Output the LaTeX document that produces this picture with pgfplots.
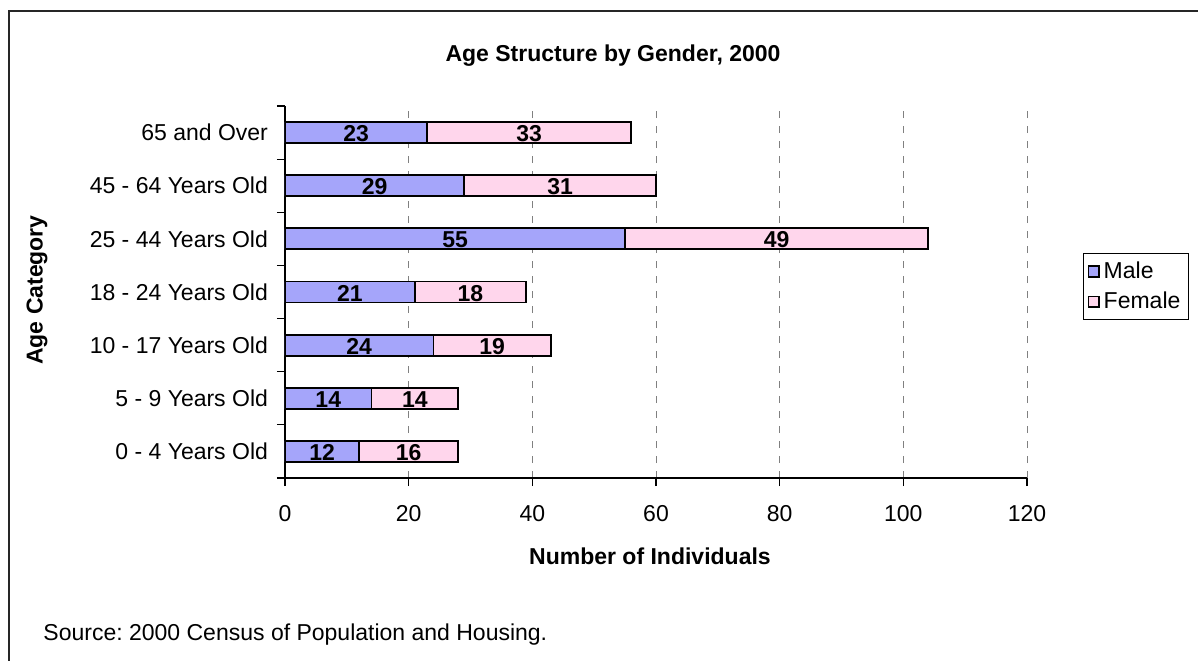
\documentclass[border=0pt]{standalone}
\usepackage{fontspec}
\setmainfont{Liberation Sans}
\usepackage{pgfplots}
\usepackage{pgfplotstable}
\pgfplotsset{compat=1.18}

\definecolor{malefill}{RGB}{165,165,250}
\definecolor{femalefill}{RGB}{255,214,236}
\definecolor{gridgray}{RGB}{128,128,128}

% age groups bottom to top
\pgfplotstableread{
pos male female
0 12 16
1 14 14
2 24 19
3 21 18
4 55 49
5 29 31
6 23 33
}\agedata

\begin{document}
\frenchspacing
\fontsize{11.5}{13.8}\selectfont
\begin{tikzpicture}
\useasboundingbox (0,0) rectangle (599pt,330pt);
% chart frame (runs off the right and bottom edges)
\draw[line width=0.8pt, black!85] (4.5pt,-2pt) -- (4.5pt,324.5pt) -- (601pt,324.5pt);
\node[font=\bfseries] at (306.5pt,302pt) {Age Structure by Gender, 2000};
\node[anchor=west] at (17.7pt,12.5pt) {Source: 2000 Census of Population and Housing.};

\begin{axis}[
    at={(142.5pt,91pt)}, anchor=south west,
    width=371pt, height=186pt, scale only axis,
    xbar stacked, bar width=10.5pt,
    xmin=0, xmax=120, ymin=-0.5, ymax=6.5,
    axis x line=bottom, axis y line=left,
    axis line style={-, line width=0.6pt, black},
    tick align=outside, major tick length=4pt,
    tick style={line width=0.6pt, black},
    xtick={0,20,...,120},
    xmajorgrids=true,
    grid style={dashed, gridgray, line width=0.5pt, dash pattern=on 3.5pt off 4pt},
    /pgf/number format/assume math mode=true,
    xticklabel style={yshift=-5.5pt},
    ytick={-0.5,0.5,...,6.5}, yticklabels={},
    extra y ticks={0,1,2,3,4,5,6},
    extra y tick labels={0 - 4 Years Old, 5 - 9 Years Old, 10 - 17 Years Old, 18 - 24 Years Old, 25 - 44 Years Old, 45 - 64 Years Old, 65 and Over},
    extra y tick style={major tick length=0pt, yticklabel style={xshift=-4.5pt}},
    xlabel={Number of Individuals},
    ylabel={Age Category},
    xlabel style={font=\bfseries, at={(axis description cs:0.4919,-0.2097)}, anchor=center},
    ylabel style={font=\bfseries, at={(axis description cs:-0.3342,0.5054)}, anchor=center},
    legend style={at={(1.0755,0.6048)}, anchor=north west, draw=black, line width=0.5pt,
        inner xsep=2pt, inner ysep=2pt, row sep=1pt, cells={anchor=west}},
    legend image code/.code={\draw[#1, line width=0.7pt] (0.5pt,-2.7pt) rectangle (5.9pt,2.7pt);},
    nodes near coords,
    every node near coord/.append style={anchor=center, font=\bfseries, black, yshift=-0.6pt},
]
\addplot[fill=malefill, draw=black, line width=0.9pt, point meta=explicit]
    table[x=male, y=pos, meta=male] {\agedata};
\addplot[fill=femalefill, draw=black, line width=0.9pt, point meta=explicit]
    table[x=female, y=pos, meta=female] {\agedata};
\legend{Male, Female}
\end{axis}
\end{tikzpicture}
\end{document}
